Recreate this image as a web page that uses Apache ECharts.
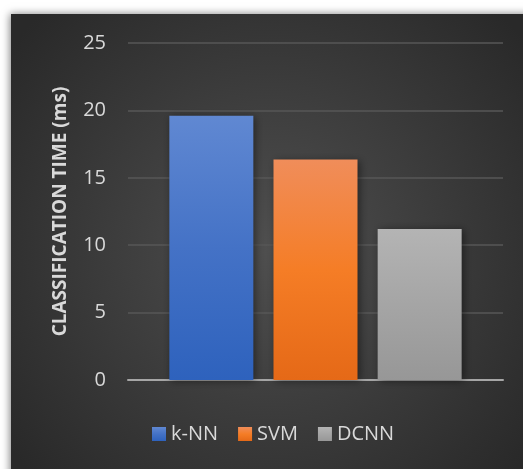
<!DOCTYPE html>
<html>
<head>
<meta charset="utf-8">
<script src="https://cdn.jsdelivr.net/npm/echarts@6/dist/echarts.min.js"></script>
<style>
  html, body { margin: 0; padding: 0; background: #ffffff; }
  #chart { width: 523px; height: 469px; }
</style>
</head>
<body>
<div id="chart"></div>
<script>
// Classification time per method
const categories = [''];
const seriesNames = ['k-NN', 'SVM', 'DCNN'];
const knnValues = [19.6];
const svmValues = [16.35];
const dcnnValues = [11.2];
const yTicks = [0, 5, 10, 15, 20, 25];

const FONT = '"Open Sans", "Noto Sans", sans-serif';
const TEXT = '#d9d9d9';

function vGrad(top, mid, bottom) {
  return new echarts.graphic.LinearGradient(0, 0, 0, 1, [
    { offset: 0, color: top },
    { offset: 0.5, color: mid },
    { offset: 1, color: bottom }
  ]);
}

const barShadow = {
  shadowBlur: 8,
  shadowColor: 'rgba(0,0,0,0.45)',
  shadowOffsetX: 2,
  shadowOffsetY: 1
};

const chart = echarts.init(document.getElementById('chart'), null, { renderer: 'canvas' });

chart.setOption({
  animation: false,
  backgroundColor: '#ffffff',
  graphic: [{
    type: 'rect',
    z: -10,
    silent: true,
    shape: { x: 11, y: 14, width: 520, height: 470 },
    style: {
      fill: new echarts.graphic.RadialGradient(0.5, 0.5, 0.7, [
        { offset: 0, color: '#4f4f4f' },
        { offset: 1, color: '#292929' }
      ]),
      shadowBlur: 8,
      shadowColor: 'rgba(0,0,0,0.5)',
      shadowOffsetX: -1,
      shadowOffsetY: 0
    }
  }],
  grid: { left: 128, right: 20, top: 43, bottom: 89 },
  legend: {
    data: seriesNames,
    bottom: 20,
    left: 147,
    itemWidth: 14,
    itemHeight: 14,
    itemGap: 20,
    icon: 'rect',
    textStyle: { color: TEXT, fontSize: 20, fontFamily: FONT }
  },
  xAxis: {
    type: 'category',
    data: categories,
    axisLine: { lineStyle: { color: '#a6a6a6', width: 2 } },
    axisTick: { show: false },
    axisLabel: { show: false }
  },
  yAxis: {
    type: 'value',
    min: yTicks[0],
    max: yTicks[yTicks.length - 1],
    interval: 5,
    name: 'CLASSIFICATION TIME (ms)',
    nameLocation: 'middle',
    nameRotate: 90,
    nameGap: 58,
    nameTextStyle: { color: TEXT, fontSize: 19, fontWeight: 'bold', fontFamily: FONT },
    axisLine: { show: false },
    axisTick: { show: false },
    axisLabel: { color: TEXT, fontSize: 20, fontFamily: FONT, margin: 22 },
    splitLine: { lineStyle: { color: '#575757', width: 1.5 } }
  },
  series: [
    {
      name: seriesNames[0], type: 'bar', data: knnValues,
      barWidth: 84, barGap: '24%',
      itemStyle: Object.assign({ color: vGrad('#6088d2', '#4472c6', '#2e62bd') }, barShadow)
    },
    {
      name: seriesNames[1], type: 'bar', data: svmValues,
      barWidth: 84, barGap: '24%',
      itemStyle: Object.assign({ color: vGrad('#f08d5a', '#f57d26', '#e56917') }, barShadow)
    },
    {
      name: seriesNames[2], type: 'bar', data: dcnnValues,
      barWidth: 84, barGap: '24%',
      itemStyle: Object.assign({ color: vGrad('#b4b4b4', '#a5a5a5', '#979797') }, barShadow)
    }
  ]
});
</script>
</body>
</html>
